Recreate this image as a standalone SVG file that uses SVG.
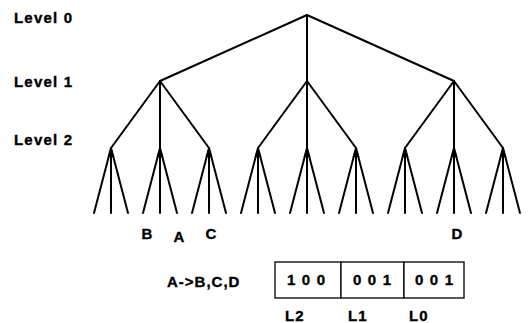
<svg xmlns="http://www.w3.org/2000/svg" width="530" height="323" viewBox="0 0 530 323">
<style>
text{font-family:"Liberation Sans",Arial,sans-serif;font-weight:bold;fill:#000;stroke:#000;stroke-width:0.35}
.lvl{font-size:15px;letter-spacing:1.2px}
.lbl{font-size:15px}
.num{font-size:15px;letter-spacing:6.5px}
.small{font-size:15px;letter-spacing:1px}
.e{stroke:#000;stroke-width:2;fill:none;stroke-linecap:round}
.j{fill:#000}
.box{stroke:#000;stroke-width:1.3;fill:#fff}
</style>
<rect width="530" height="323" fill="#fff"/>
<g id="level-labels">
<text class="lvl" x="14" y="23">Level 0</text>
<text class="lvl" x="14" y="87">Level 1</text>
<text class="lvl" x="14" y="145">Level 2</text>
</g>
<g id="connectors">
<g class="e">
<path d="M307,15L160,81M307,15L307,81M307,15L454,81"/>
<path d="M160,81L111,148M160,81L160,148M160,81L209,148"/>
<path d="M307,81L258,148M307,81L307,148M307,81L356,148"/>
<path d="M454,81L405,148M454,81L454,148M454,81L503,148"/>
<path d="M111,148L94,213M111,148L111,213M111,148L128,213"/>
<path d="M160,148L143,213M160,148L160,213M160,148L177,213"/>
<path d="M209,148L192,213M209,148L209,213M209,148L226,213"/>
<path d="M258,148L241,213M258,148L258,213M258,148L275,213"/>
<path d="M307,148L290,213M307,148L307,213M307,148L324,213"/>
<path d="M356,148L339,213M356,148L356,213M356,148L373,213"/>
<path d="M405,148L388,213M405,148L405,213M405,148L422,213"/>
<path d="M454,148L437,213M454,148L454,213M454,148L471,213"/>
<path d="M503,148L486,213M503,148L503,213M503,148L520,213"/>
</g>
<g class="j">
<path d="M111,147l-3.5,10h7z"/>
<path d="M160,147l-3.5,10h7z"/>
<path d="M209,147l-3.5,10h7z"/>
<path d="M258,147l-3.5,10h7z"/>
<path d="M307,147l-3.5,10h7z"/>
<path d="M356,147l-3.5,10h7z"/>
<path d="M405,147l-3.5,10h7z"/>
<path d="M454,147l-3.5,10h7z"/>
<path d="M503,147l-3.5,10h7z"/>
</g>
</g>
<g id="node-B"><text class="lbl" x="147" y="239" text-anchor="middle">B</text></g>
<g id="node-A"><text class="lbl" x="179" y="242" text-anchor="middle">A</text></g>
<g id="node-C"><text class="lbl" x="211" y="239" text-anchor="middle">C</text></g>
<g id="node-D"><text class="lbl" x="457" y="239" text-anchor="middle">D</text></g>
<g id="mapping"><text class="small" x="167" y="287">A-&gt;B,C,D</text></g>
<g id="bitvector">
<rect class="box" x="275" y="262" width="66" height="36"/>
<rect class="box" x="341" y="262" width="63" height="36"/>
<rect class="box" x="404" y="262" width="60" height="36"/>
<text class="num" x="287" y="285">100</text>
<text class="num" x="353" y="285">001</text>
<text class="num" x="415" y="285">001</text>
</g>
<g id="bit-labels">
<text class="small" x="285" y="321">L2</text>
<text class="small" x="348" y="321">L1</text>
<text class="small" x="409" y="321">L0</text>
</g>
</svg>
